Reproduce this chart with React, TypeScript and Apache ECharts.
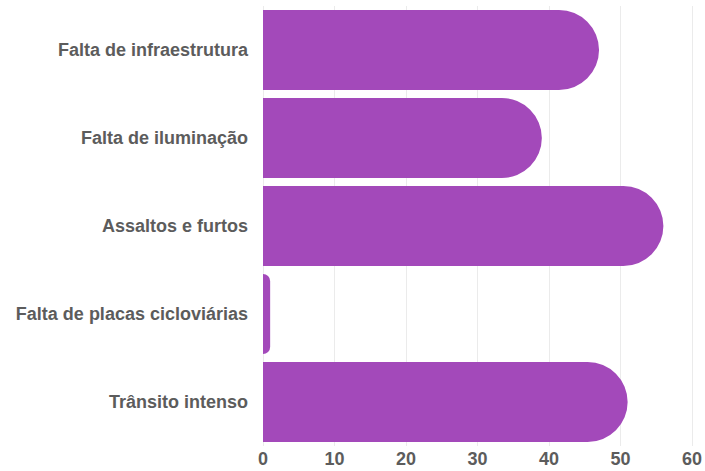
import React, { useEffect, useRef } from "react";
import * as echarts from "echarts";

const categories = [
  "Falta de infraestrutura",
  "Falta de iluminação",
  "Assaltos e furtos",
  "Falta de placas cicloviárias",
  "Trânsito intenso",
];
const values = [47, 39, 56, 1, 51];
const xTicks = { min: 0, max: 60, interval: 10 };

export default function App() {
  const ref = useRef<HTMLDivElement>(null);
  useEffect(() => {
    if (!ref.current) return;
    const chart = echarts.init(ref.current, undefined, { renderer: "svg" });
    chart.setOption({
      animation: false,
      backgroundColor: "#ffffff",
      grid: { left: 263, right: 10, top: 6, bottom: 25, containLabel: false },
      xAxis: {
        type: "value",
        min: xTicks.min,
        max: xTicks.max,
        interval: xTicks.interval,
        axisLine: { show: false },
        axisTick: { show: false },
        splitLine: { show: true, lineStyle: { color: "#ebebeb", width: 1 } },
        axisLabel: {
          color: "#5c5c5c",
          fontSize: 18,
          fontWeight: "bold",
          fontFamily: "Liberation Sans, Arial, sans-serif",
          margin: 4,
        },
      },
      yAxis: {
        type: "category",
        data: categories,
        inverse: true,
        axisLine: { show: false },
        axisTick: { show: false },
        splitLine: { show: false },
        axisLabel: {
          color: "#5c5c5c",
          fontSize: 18,
          fontWeight: "bold",
          fontFamily: "Liberation Sans, Arial, sans-serif",
          margin: 15,
        },
      },
      series: [
        {
          type: "bar",
          data: values,
          barCategoryGap: "9%",
          itemStyle: { color: "#a349ba", borderRadius: [0, 40, 40, 0] },
        },
      ],
    });
    return () => chart.dispose();
  }, []);
  return (
    <div
      ref={ref}
      style={{ position: "fixed", left: 0, top: 0, width: 705, height: 471 }}
    />
  );
}
